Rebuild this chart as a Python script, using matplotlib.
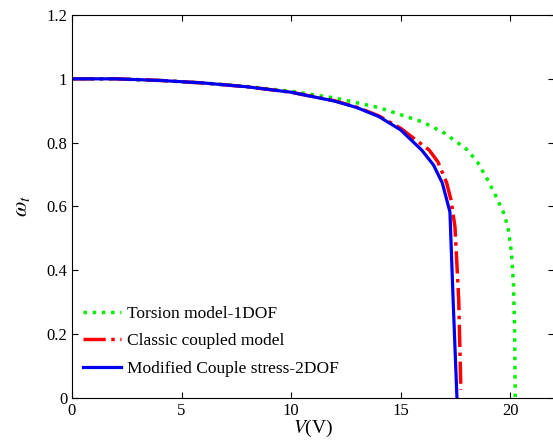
import numpy as np
import matplotlib.pyplot as plt

plt.rcParams['font.family'] = ['Liberation Serif', 'DejaVu Serif']
plt.rcParams['mathtext.fontset'] = 'stix'

# 扭转模型 1DOF
v_torsion = [0, 2, 4, 6, 8, 10, 12, 14, 16, 17, 18, 18.5, 19, 19.4, 19.7, 19.9, 20.05, 20.15, 20.2, 20.23]
w_torsion = [1.0, 1.0, 0.995, 0.987, 0.976, 0.961, 0.94, 0.91, 0.865, 0.83, 0.78, 0.74, 0.68, 0.625, 0.58, 0.535, 0.46, 0.36, 0.22, 0.0]

# 经典耦合模型
v_classic = [0, 2, 4, 6, 8, 10, 12, 13, 14, 15, 16.3, 16.7, 17.1, 17.3, 17.48, 17.65, 17.75]
w_classic = [1.0, 1.0, 0.995, 0.987, 0.975, 0.958, 0.931, 0.911, 0.884, 0.845, 0.777, 0.74, 0.674, 0.62, 0.536, 0.31, 0.025]

# 修正偶应力 2DOF
v_couple = [0, 2, 4, 6, 8, 10, 12, 13, 14, 15, 15.96, 16.5, 16.9, 17.25, 17.4, 17.57]
w_couple = [1.0, 1.0, 0.995, 0.987, 0.975, 0.958, 0.93, 0.91, 0.882, 0.84, 0.777, 0.73, 0.674, 0.583, 0.3, 0.0]

fig = plt.figure(figsize=(5.53, 4.41), dpi=100)
ax = fig.add_axes([72 / 553, 43 / 441, 482 / 553, 383 / 441])

ax.plot(v_torsion, w_torsion, ':', color='#00ee00', lw=2.5, label='Torsion model-1DOF')
ax.plot(v_classic, w_classic, '-.', color='#ff0000', lw=2.5, label='Classic coupled model')
ax.plot(v_couple, w_couple, '-', color='#0000ee', lw=2.3, label='Modified Couple stress-2DOF')

ax.set_xlim(0, 22)
ax.set_ylim(0, 1.2)
ax.set_xticks([0, 5, 10, 15, 20])
ax.set_yticks([0, 0.2, 0.4, 0.6, 0.8, 1.0, 1.2])
ax.set_yticklabels(['0', '0.2', '0.4', '0.6', '0.8', '1', '1.2'])
ax.tick_params(direction='in', top=True, right=True, labelsize=12, length=4)
ax.set_xlabel('$V$(V)', fontsize=14, labelpad=-1)
ax.set_ylabel(r'$\omega_t$', fontsize=16, labelpad=10)

ax.legend(loc='lower left', bbox_to_anchor=(-0.01, 0.015), frameon=False, fontsize=12.5,
          handlelength=2.2, handletextpad=0.35, labelspacing=0.65)

fig.savefig('out.png', dpi=100)
